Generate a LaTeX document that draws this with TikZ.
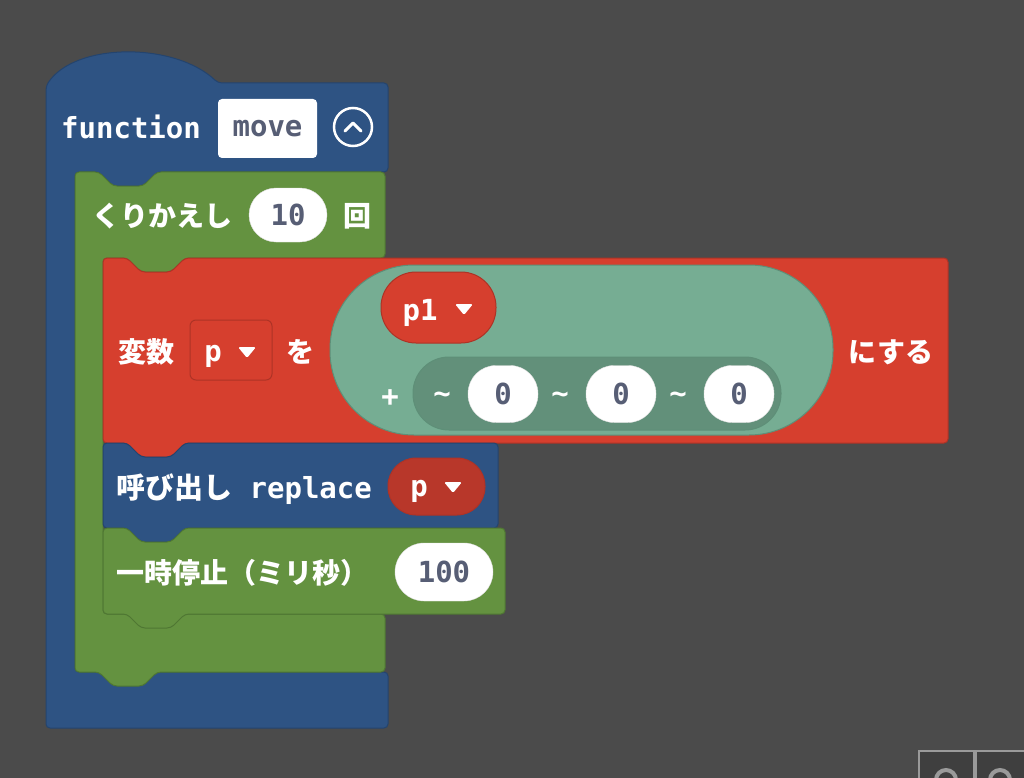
\documentclass[tikz,border=0pt]{standalone}
\usepackage{fontspec}
\setmainfont{DejaVu Sans Mono}
\newfontfamily\jp{Noto Sans CJK JP}
\definecolor{bg}{HTML}{4B4B4B}
\definecolor{fnblue}{HTML}{2E5383}
\definecolor{fnedge}{HTML}{24446E}
\definecolor{loopgreen}{HTML}{649240}
\definecolor{loopedge}{HTML}{4F7733}
\definecolor{varred}{HTML}{D63F2E}
\definecolor{varedge}{HTML}{AE3326}
\definecolor{dropred}{HTML}{B8372A}
\definecolor{teal}{HTML}{76AD93}
\definecolor{tealedge}{HTML}{5E8F78}
\definecolor{tealdark}{HTML}{62907A}
\definecolor{txt}{HTML}{575E75}
\definecolor{btnfill}{HTML}{3F3F3F}
\definecolor{btnedge}{HTML}{9A9A9A}
% notch on a top edge, tab on a bottom edge
\newcommand\notchgo[2]{-- (#1+24,#2) -- (#1+38,#2+14) -- (#1+68,#2+14) -- (#1+82,#2)}
\newcommand\notchback[2]{-- (#1+82,#2) -- (#1+68,#2+14) -- (#1+38,#2+14) -- (#1+24,#2)}
\tikzset{
  block/.style={line width=1pt, rounded corners=4pt, line join=round},
  jtext/.style={text=white, inner sep=0pt, font=\jp\bfseries\fontsize{28}{30}\selectfont},
  code/.style={text=white, inner sep=0pt, font=\bfseries\fontsize{29}{30}\selectfont},
  numpill/.style={fill=white, draw=black!12, rounded corners=27pt, inner sep=0pt,
    minimum height=56pt, text=txt, font=\bfseries\fontsize{29}{30}\selectfont},
  caret/.pic={\fill[white, rounded corners=1.5pt] (-9,-5) -- (9,-5) -- (0,6) -- cycle;}
}
\begin{document}
\begin{tikzpicture}[x=1pt,y=-1pt]
\useasboundingbox (0,0) rectangle (1024,778);
\fill[bg] (0,0) rectangle (1024,778);

% function block
\draw[block, fill=fnblue, draw=fnedge] (46,86) .. controls (75,42) and (175,42) .. (218,83)
  -- (388,83) -- (388,172) \notchback{75}{172} -- (75,172) -- (75,672) -- (388,672)
  -- (388,728) -- (46,728) -- cycle;
\node[code, anchor=west] (fnlabel) at (61,127) {function};
\node[fill=white, rounded corners=4pt, minimum width=99pt, minimum height=59pt,
  inner sep=0pt, text=txt, font=\bfseries\fontsize{29}{30}\selectfont] (fnname) at (267.5,128.5) {move};
\node[circle, draw=white, line width=2.5pt, minimum size=38pt] (collapse) at (353,127) {};
\draw[white, line width=3pt, line cap=round, line join=round]
  (collapse.center) ++(-8,4) -- ++(8,-8) -- ++(8,8);

% repeat block
\draw[block, fill=loopgreen, draw=loopedge] (75,172) \notchgo{75}{172} -- (385,172)
  -- (385,258) \notchback{103}{258} -- (103,258) -- (103,614) -- (385,614)
  -- (385,672) \notchback{75}{672} -- (75,672) -- cycle;
\node[jtext] (looplabel) at (162,216) {くりかえし};
\node[numpill, minimum width=78pt, minimum height=54pt] (count) at (288,215) {10};
\node[jtext] (looptimes) at (357,216) {回};

% set variable block
\draw[block, fill=varred, draw=varedge] (103,258) \notchgo{103}{258} -- (948,258)
  -- (948,443) \notchback{103}{443} -- (103,443) -- cycle;
\node[jtext] (setlabel) at (146,352) {変数};
\draw[fill=varred, draw=varedge, line width=1pt, rounded corners=6pt] (190,320) rectangle (272,380);
\node[code] (varname) at (213,356) {p};
\pic at (247,352) {caret};
\node[jtext] (setto) at (300,352) {を};
\draw[fill=teal, draw=tealedge, line width=1pt, rounded corners=84pt] (330,265) rectangle (833,435);
\draw[fill=varred, draw=varedge, line width=1pt, rounded corners=35pt] (381,272) rectangle (496,343);
\node[code] (listvar) at (420,313) {p1};
\pic at (464,309) {caret};
\node[code] (plus) at (390,398) {+};
\draw[fill=tealdark, draw=tealedge, line width=1pt, rounded corners=36pt] (413,357) rectangle (781,430);
\foreach \i/\x in {1/503,2/621,3/739} {
  \node[code] (tilde\i) at (\x-61,398) {\textasciitilde};
  \node[numpill, minimum width=70pt, minimum height=57pt, rounded corners=28pt] (item\i) at (\x,394) {0};
}
\node[jtext] (setend) at (891,352) {にする};

% call block
\draw[block, fill=fnblue, draw=fnedge] (103,443) \notchgo{103}{443} -- (498,443)
  -- (498,528) \notchback{103}{528} -- (103,528) -- cycle;
\node[code, anchor=west] (calllabel) at (116,489) {{\jp 呼び出し} replace};
\draw[fill=dropred, draw=varedge, line width=1pt, rounded corners=28pt] (388,458) rectangle (485,515);
\node[code] (callarg) at (419,491) {p};
\pic at (453,487) {caret};

% pause block
\draw[block, fill=loopgreen, draw=loopedge] (103,528) \notchgo{103}{528} -- (505,528)
  -- (505,614) \notchback{103}{614} -- (103,614) -- cycle;
\node[jtext, anchor=west] (pauselabel) at (116,573) {一時停止（ミリ秒）};
\node[numpill, minimum width=98pt, minimum height=58pt, rounded corners=29pt] (delay) at (444,572) {100};

% undo / redo buttons
\draw[fill=btnfill, draw=btnedge, line width=2pt] (919,751) rectangle (974,790);
\draw[fill=btnfill, draw=btnedge, line width=2pt] (976,751) rectangle (1031,790);
\draw[btnedge, line width=4pt] (936,780) arc[start angle=180, end angle=0, radius=10pt];
\draw[btnedge, line width=4pt] (990,780) arc[start angle=180, end angle=0, radius=10pt];
\end{tikzpicture}
\end{document}
